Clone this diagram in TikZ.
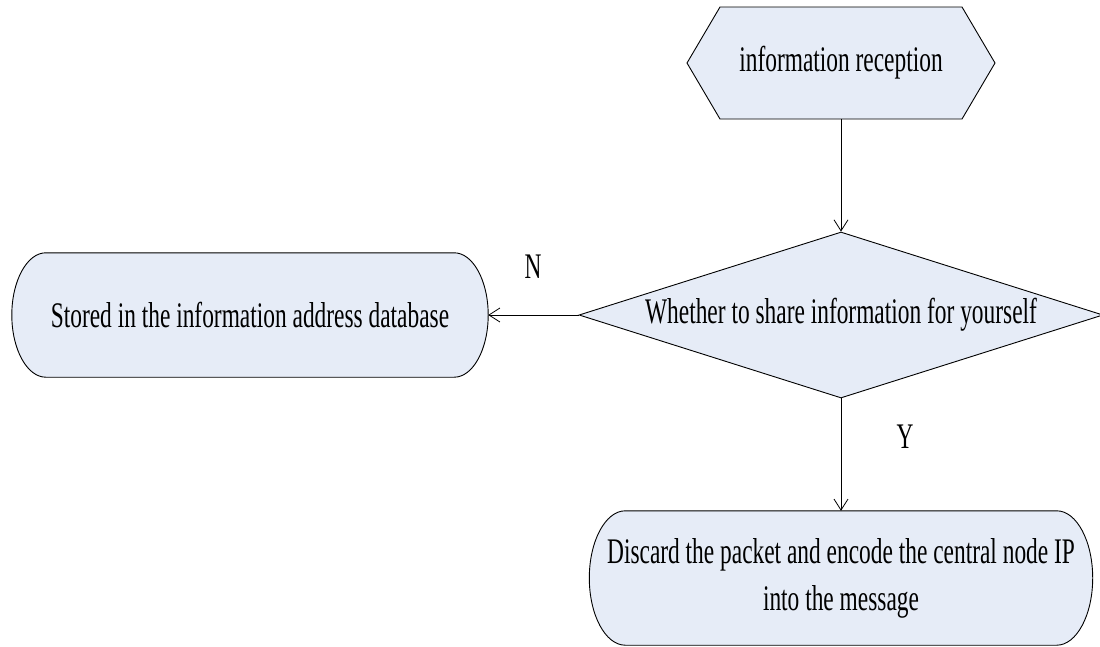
\documentclass[tikz,border=0pt]{standalone}
\usepackage{fontspec}
\setmainfont{Liberation Serif}[FakeStretch=0.65]
\usetikzlibrary{shapes.geometric,shapes.symbols,arrows.meta,backgrounds}
\definecolor{boxfill}{RGB}{230,236,247}
\tikzset{
  every node/.style={font=\fontsize{36}{47}\selectfont},
  shapebox/.style={draw=black, line width=0.9pt, fill=boxfill, inner sep=0pt},
  textarea/.style={inner sep=0pt, align=center},
  decision/.style={shapebox, diamond},
  start/.style={shapebox, signal, signal to=west and east, signal pointer angle=119},
  conn/.style={draw=black, line width=0.8pt, -{Straight Barb[length=11pt,width=14pt,line width=0.8pt]}},
  lbl/.style={inner sep=0pt}
}
% outline of a flat box with elliptic ends round node #1; #2 = end depth, #3 = half height
\newcommand{\capsulebox}[3]{%
  \begin{scope}[on background layer]
  \draw[shapebox] ([xshift=#2pt]#1.north west) -- ([xshift=-#2pt]#1.north east)
    .. controls +(0.552*#2,0) and +(0,-0.552*#3) .. (#1.east)
    .. controls +(0,0.552*#3) and +(0.552*#2,0) .. ([xshift=-#2pt]#1.south east)
    -- ([xshift=#2pt]#1.south west)
    .. controls +(-0.552*#2,0) and +(0,0.552*#3) .. (#1.west)
    .. controls +(0,-0.552*#3) and +(-0.552*#2,0) .. ([xshift=#2pt]#1.north west) -- cycle;
  \end{scope}}
\begin{document}
\begin{tikzpicture}[x=1pt,y=-1pt]
\useasboundingbox (0,0) rectangle (1100,646);
\node[start, minimum width=308pt, minimum height=112pt] (recv) at (841,63) {information reception};
\node[decision, minimum width=524pt, minimum height=166pt, aspect=3.2] (dec) at (841,315) {Whether to share information for yourself};
\node[textarea, minimum width=476pt, minimum height=124pt] (store) at (250,315) {Stored in the information address database};
\capsulebox{store}{34}{62}
\node[textarea, minimum width=503pt, minimum height=134pt] (discard) at (841,578) {Discard the packet and encode the central node IP\\into the message};
\capsulebox{discard}{36}{67}
\node[lbl] (nlab) at (533,267) {N};
\node[lbl] (ylab) at (905,437) {Y};
\draw[conn] (recv.south) -- (dec.north);
\draw[conn] (dec.west) -- (store.east);
\draw[conn] (dec.south) -- (discard.north);
\end{tikzpicture}
\end{document}
